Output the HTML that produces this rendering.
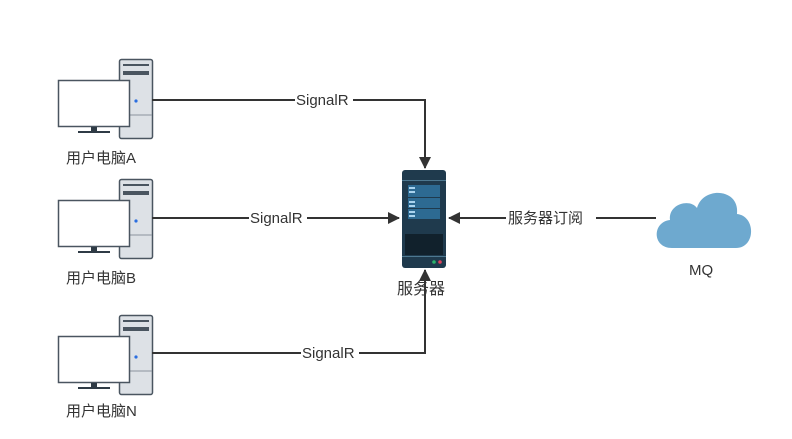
<!DOCTYPE html>
<html><head><meta charset="utf-8"><style>
body{margin:0;background:#fff}
text{font-family:"Liberation Sans","Noto Sans CJK SC",sans-serif;font-size:15px;fill:#333}
</style></head><body>
<svg width="792" height="434" xmlns="http://www.w3.org/2000/svg">
<defs>
<g id="pc">
<rect x="119.5" y="59.5" width="33" height="79" rx="2" fill="#dde1e6" stroke="#4a5560" stroke-width="1.5"/>
<rect x="123" y="64" width="26" height="2" fill="#4a5560"/>
<rect x="123" y="71" width="26" height="4" fill="#4a5560"/>
<line x1="120" y1="115" x2="152" y2="115" stroke="#8a949e"/>
<circle cx="136" cy="101" r="1.6" fill="#2a6ee0"/>
<rect x="58.5" y="80.5" width="71" height="46" fill="#fff" stroke="#4a5560" stroke-width="1.5"/>
<rect x="91" y="127" width="6" height="5" fill="#2f3b46"/>
<rect x="78" y="131" width="32" height="2" fill="#2f3b46"/>
</g>
<marker id="ar" markerWidth="12" markerHeight="12" refX="11" refY="6" orient="auto" markerUnits="userSpaceOnUse"><path d="M0,0 L12,6 L0,12 z" fill="#333"/></marker>
</defs>
<use href="#pc"/>
<use href="#pc" y="120"/>
<use href="#pc" y="256"/>
<text x="66" y="163">用户电脑A</text>
<text x="66" y="283">用户电脑B</text>
<text x="66" y="416">用户电脑N</text>
<g stroke="#333" stroke-width="2" fill="none">
<path d="M152,100 H425 V168" marker-end="url(#ar)"/>
<path d="M152,218 H399" marker-end="url(#ar)"/>
<path d="M152,353 H425 V270" marker-end="url(#ar)"/>
<path d="M656,218 H449" marker-end="url(#ar)"/>
</g>
<rect x="295" y="91" width="58" height="18" fill="#fff"/><text x="296" y="105">SignalR</text>
<rect x="249" y="209" width="58" height="18" fill="#fff"/><text x="250" y="223">SignalR</text>
<rect x="301" y="344" width="58" height="18" fill="#fff"/><text x="302" y="358">SignalR</text>
<rect x="506" y="209" width="90" height="18" fill="#fff"/><text x="508" y="223">服务器订阅</text>
<!-- server -->
<rect x="402" y="170" width="44" height="98" rx="3" fill="#1f3a4d"/>
<rect x="402" y="180" width="44" height="1" fill="#4d7890"/>
<rect x="408" y="185" width="32" height="12" fill="#2d6a92"/>
<rect x="408" y="198" width="32" height="10" fill="#2d6a92"/>
<rect x="408" y="209" width="32" height="10" fill="#2d6a92"/>
<g fill="#a9d3ee"><rect x="409" y="187" width="6" height="2"/><rect x="409" y="191" width="6" height="2"/><rect x="409" y="201" width="6" height="2"/><rect x="409" y="205" width="6" height="2"/><rect x="409" y="211" width="6" height="2"/><rect x="409" y="215" width="6" height="2"/></g>
<rect x="405" y="234" width="38" height="21" fill="#11212c"/>
<rect x="402" y="256" width="44" height="1" fill="#4d7890"/>
<circle cx="434" cy="262" r="1.8" fill="#2bb36b"/><circle cx="440" cy="262" r="1.8" fill="#e0405a"/>
<path d="M425,270 V282" stroke="#333" stroke-width="2"/>
<text x="397" y="294" style="font-size:16px">服务器</text>
<!-- cloud -->
<path d="M672,248 C652,248 652,222 670,220 C668,204 690,198 697,208 C703,186 740,188 737,214 C756,216 756,248 736,248 Z" fill="#6ea9cf"/>
<text x="689" y="275">MQ</text>
</svg>
</body></html>
